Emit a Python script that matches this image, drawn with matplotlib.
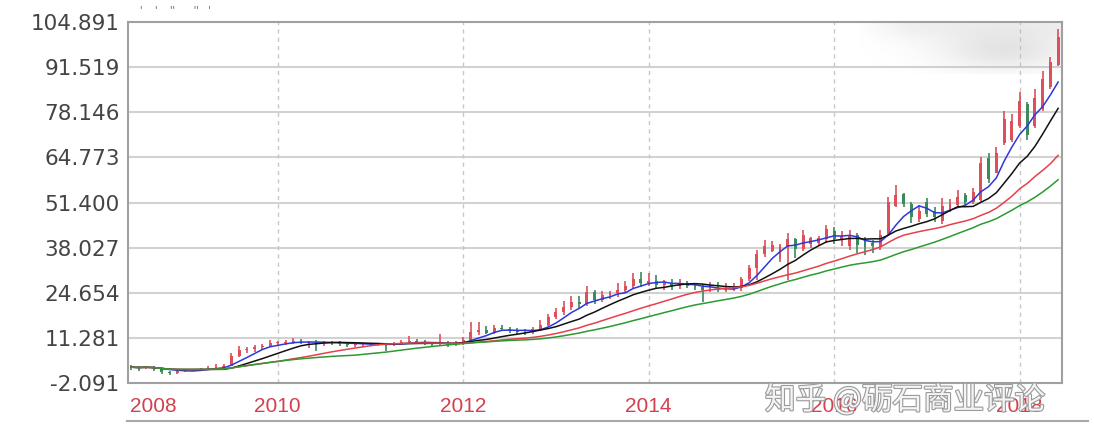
import matplotlib
matplotlib.use("Agg")
import matplotlib.pyplot as plt
import matplotlib.patheffects as pe
from matplotlib.lines import Line2D
import numpy as np
import pandas as pd

# monthly bars, Jun 2008 .. Jun 2018
months = pd.date_range("2008-06-01", "2018-06-01", freq="MS")
open_ = [2.8, 2.6, 2.4, 2.7, 2.2, 1.2, 1.0, 1.4, 1.8, 1.9, 2.1, 2.4, 2.7,
         3.0, 5.8, 7.8, 8.0, 8.6, 9.0, 9.8, 9.9, 10.2, 10.3,
         9.9, 10.0, 9.8, 10.0, 9.9, 9.6, 9.3, 9.4, 9.5, 9.4, 9.3, 9.1, 9.8, 10.0, 10.3, 10.1, 9.6, 9.5, 9.8, 9.2,
         9.6, 10.8, 13.0, 13.6, 12.8, 14.2, 14.0, 13.4, 13.1, 12.9, 13.8, 15.2, 17.5, 19.0, 20.5, 21.8, 21.2, 25.0, 22.5, 24.0, 24.5, 25.5, 26.8, 28.8,
         27.6, 28.2, 27.0, 27.6, 26.8, 27.5, 26.8, 26.5, 25.4, 25.8, 25.6, 25.9, 26.0, 28.6, 32.0, 36.2, 37.0, 35.0, 38.5, 40.5, 37.5, 39.0, 39.5, 40.5,
         43.0, 40.5, 38.5, 41.8, 40.5, 39.5, 38.5, 42.3, 50.5, 54.0, 51.0, 46.5, 51.5, 49.0, 46.0, 49.5, 50.6, 53.5, 51.5, 52.0, 64.5, 60.2, 69.1, 70.0,
         74.0, 80.5, 74.0, 79.0, 85.5, 92.0]
high = [3.2, 3.0, 3.0, 3.0, 2.4, 1.6, 1.8, 2.0, 2.2, 2.4, 2.9, 3.4, 3.6,
        6.8, 9.0, 8.6, 9.2, 9.6, 10.8, 10.5, 10.6, 11.3, 11.0,
        10.4, 10.6, 10.4, 10.5, 10.3, 10.0, 9.8, 9.9, 9.9, 9.8, 9.7, 10.2, 10.6, 11.9, 11.0, 10.6, 10.2, 12.5, 10.4, 10.4,
        11.5, 15.9, 15.9, 14.8, 15.0, 15.2, 14.6, 14.3, 14.0, 14.6, 16.5, 18.5, 20.0, 22.3, 23.8, 23.8, 26.8, 25.5, 25.3, 25.3, 27.4, 28.1, 30.4, 30.8,
        30.4, 30.0, 28.5, 28.8, 28.6, 28.0, 27.6, 27.2, 27.8, 27.8, 27.5, 27.6, 29.3, 32.8, 37.2, 40.2, 39.9, 39.0, 42.3, 40.8, 43.2, 41.2, 41.5, 44.7,
        44.0, 43.0, 43.2, 42.3, 41.1, 40.2, 43.2, 53.0, 56.6, 54.2, 51.5, 50.6, 52.7, 50.0, 52.7, 52.3, 55.1, 54.2, 55.6, 65.0, 66.1, 67.9, 78.4, 77.5,
        84.0, 81.3, 84.9, 90.4, 94.4, 102.8]
low = [1.8, 1.5, 2.0, 1.6, 0.6, 0.4, 0.7, 1.1, 1.4, 1.6, 1.8, 2.1, 2.4,
       2.8, 5.5, 6.8, 7.2, 7.8, 8.6, 9.0, 9.2, 9.6, 9.5,
       8.2, 7.4, 9.0, 9.2, 8.8, 8.6, 8.6, 8.7, 8.9, 8.8, 7.3, 8.8, 9.4, 9.5, 9.6, 9.2, 8.8, 9.0, 8.6, 8.8,
       9.3, 10.5, 12.2, 12.3, 12.5, 13.5, 12.8, 12.2, 12.0, 12.4, 13.2, 14.8, 16.8, 18.0, 19.5, 20.0, 20.8, 21.2, 21.8, 22.8, 23.5, 24.8, 26.0, 26.5,
       26.8, 25.8, 25.5, 25.6, 25.8, 26.0, 25.6, 21.8, 24.8, 25.0, 24.8, 25.2, 25.3, 28.0, 28.3, 35.2, 36.7, 33.8, 28.3, 35.0, 37.0, 38.0, 38.5, 39.5,
       39.0, 38.5, 37.2, 36.4, 35.7, 36.5, 37.2, 41.5, 50.0, 50.0, 45.3, 45.6, 47.1, 45.5, 45.0, 48.5, 50.3, 50.6, 51.0, 51.6, 57.2, 60.0, 68.5, 69.4,
       73.6, 70.0, 73.6, 78.4, 84.9, 91.9]
close = [2.6, 2.4, 2.7, 2.2, 1.2, 1.0, 1.4, 1.8, 1.9, 2.1, 2.4, 2.7, 3.0,
         5.8, 7.8, 8.0, 8.6, 9.0, 9.8, 9.9, 10.2, 10.3, 9.9,
         10.0, 9.8, 10.0, 9.9, 9.6, 9.3, 9.4, 9.5, 9.4, 9.3, 9.1, 9.8, 10.0, 10.3, 10.1, 9.6, 9.5, 9.8, 9.2, 9.6,
         10.8, 13.0, 13.6, 12.8, 14.2, 14.0, 13.4, 13.1, 12.9, 13.8, 15.2, 17.5, 19.0, 20.5, 21.8, 21.2, 25.0, 22.5, 24.0, 24.5, 25.5, 26.8, 28.8, 27.6,
         28.2, 27.0, 27.6, 26.8, 27.5, 26.8, 26.5, 25.4, 25.8, 25.6, 25.9, 26.0, 28.6, 32.0, 36.2, 38.6, 38.8, 38.5, 40.5, 37.5, 41.8, 40.8, 41.0, 43.5,
         40.5, 41.5, 41.8, 38.8, 38.2, 38.5, 41.8, 51.5, 53.5, 51.0, 47.0, 49.0, 48.0, 47.0, 50.5, 51.0, 53.0, 51.5, 54.5, 63.0, 58.5, 66.0, 76.0, 75.5,
         81.5, 71.5, 82.5, 88.0, 93.0, 100.5]

ma_windows = [5, 10, 20, 30]
yticks = [-2.091, 11.281, 24.654, 38.027, 51.400, 64.773, 78.146, 91.519, 104.891]
ytick_labels = ["-2.091", "11.281", "24.654", "38.027", "51.400", "64.773", "78.146", "91.519", "104.891"]
year_labels = ["2008", "2010", "2012", "2014", "2016", "2018"]

UP = "#dd4f5a"; DOWN = "#3b8a5c"; GRID = "#d2d2d2"; FRAME = "#a0a0a0"; TXT = "#444444"; YEAR = "#d4404f"
MA_COLORS = ["#2a38dc", "#111111", "#e6414b", "#2c9a30"]

W, H = 1094, 444
fig = plt.figure(figsize=(W / 100, H / 100), dpi=100)
fig.patch.set_facecolor("white")
ax = fig.add_axes([128 / W, 1 - 383 / H, (1062 - 128) / W, (383 - 22) / H])

x = np.arange(len(close))
o = np.array(open_); c = np.array(close); hi = np.array(high); lo = np.array(low)
cols = [UP if c[i] >= o[i] else DOWN for i in range(len(c))]

# grid
for yt in yticks[1:-1]:
    ax.axhline(yt, color=GRID, lw=1.5, zorder=1)
year_pos = {}
for yr in year_labels:
    idx = np.where((months.year == int(yr)) & (months.month == 1))[0]
    if len(idx):
        year_pos[yr] = idx[0]
        ax.axvline(idx[0], color="#c8c8c8", lw=1.0, ls=(0, (3, 3)), zorder=1)

# blurred patch, top right
u, v = np.meshgrid(np.linspace(0, 1, 240), np.linspace(0, 1, 80))
a = 0.34 * np.exp(-((u - 0.72) / 0.32) ** 2 - ((v - 0.55) / 0.38) ** 2)
a += 0.20 * np.exp(-((v - 0.05) / 0.3) ** 2) * np.clip(u / 0.25, 0, 1)
rgba = np.zeros((80, 240, 4)); rgba[..., :3] = 0.70; rgba[..., 3] = np.clip(a, 0, 1)
ax.imshow(rgba, extent=(94, 120.5, 89.5, 104.891), origin="upper", aspect="auto", zorder=1.5, interpolation="bilinear")

# candles
ax.vlines(x, lo, hi, colors=cols, lw=1.2, zorder=3)
ax.bar(x, np.maximum(np.abs(c - o), 0.15), bottom=np.minimum(o, c), width=0.38, color=cols, lw=0, zorder=3)

# moving averages
cs = pd.Series(close)
for w, col in zip(ma_windows, MA_COLORS):
    ax.plot(x, cs.rolling(w, min_periods=1).mean(), color=col, lw=1.1, zorder=4)

ax.set_xlim(-0.39, 120.5)
ax.set_ylim(yticks[0], yticks[-1])
ax.set_yticks(yticks)
ax.set_yticklabels(ytick_labels, fontsize=15.5, color=TXT, family="DejaVu Sans")
ax.tick_params(axis="y", length=0, pad=6)
ax.set_xticks([])
for s in ax.spines.values():
    s.set_color(FRAME); s.set_linewidth(1.5)

# year labels
tr = ax.get_xaxis_transform()
ax.text(-0.1, -0.065, "2008", transform=tr, ha="left", va="center", color=YEAR, fontsize=15, family="Liberation Sans")
for yr, i in year_pos.items():
    ax.text(i, -0.065, yr, transform=tr, ha="center", va="center", color=YEAR, fontsize=15, family="Liberation Sans")

# rule under the labels
fig.add_artist(Line2D([127 / W, 1088 / W], [1 - 421 / H] * 2, color="#a8a8a8", lw=1.5))

# cut-off marks at top
fig.text(140 / W, 1 - 11 / H, "'    '    ''      ''   '", fontsize=7, color="#555555", va="center")

# watermark
fig.text(765 / W, 1 - 400 / H, "知乎 @砺石商业评论", fontsize=22, color="#f4f4f4",
         family=["Noto Sans CJK SC", "DejaVu Sans"], va="center", ha="left",
         path_effects=[pe.withStroke(linewidth=1.6, foreground="#9a9a9a")])

fig.savefig("out.png", dpi=100, facecolor="white")
